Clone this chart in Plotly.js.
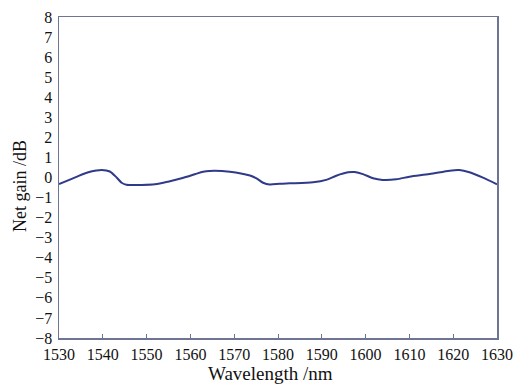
<!DOCTYPE html>
<html>
<head>
<meta charset="utf-8">
<script src="https://cdn.plot.ly/plotly-3.0.1.min.js"></script>
<style>html,body{margin:0;padding:0;background:#fff;}#chart{width:526px;height:384px;}</style>
</head>
<body>
<div id="chart"></div>
<script>
const wavelength = [1530, 1532.9, 1534.5, 1536.7, 1538.5, 1539.7, 1541.6, 1543.2, 1544.3, 1545.4, 1548.9, 1551.9, 1554.9, 1558.0, 1561.0, 1562.9, 1564.4, 1569.0, 1573.6, 1575.1, 1576.6, 1578.1, 1580.4, 1582.7, 1588.0, 1591.0, 1593.3, 1596.0, 1597.5, 1599.4, 1601.7, 1603.9, 1607.0, 1610.0, 1614.6, 1619.2, 1621.4, 1623.7, 1626.8, 1630];
const netGain = [-0.33, -0.07, 0.08, 0.26, 0.35, 0.38, 0.30, -0.01, -0.26, -0.36, -0.37, -0.34, -0.21, -0.04, 0.16, 0.29, 0.33, 0.29, 0.10, -0.04, -0.26, -0.35, -0.31, -0.29, -0.24, -0.12, 0.09, 0.26, 0.27, 0.17, -0.04, -0.12, -0.09, 0.04, 0.17, 0.34, 0.37, 0.26, -0.01, -0.34];
const xTicks = [1530, 1540, 1550, 1560, 1570, 1580, 1590, 1600, 1610, 1620, 1630];
const yTicks = [-8, -7, -6, -5, -4, -3, -2, -1, 0, 1, 2, 3, 4, 5, 6, 7, 8];
const xTitle = 'Wavelength /nm';
const yTitle = 'Net gain /dB';

const axisColor = '#6d7494';
const fontFam = '"Liberation Serif", "Times New Roman", serif';

Plotly.newPlot('chart', [{
  x: wavelength, y: netGain, type: 'scatter', mode: 'lines',
  line: {color: '#2f3a88', width: 2, shape: 'spline', smoothing: 0.8},
  hoverinfo: 'skip'
}], {
  width: 526, height: 384,
  margin: {l: 59, r: 29, t: 17, b: 46},
  paper_bgcolor: '#fff', plot_bgcolor: '#fff',
  showlegend: false,
  font: {family: fontFam, color: '#111', size: 16},
  xaxis: {
    range: [1530, 1630], tickvals: xTicks, ticktext: xTicks.map(String),
    showgrid: false, zeroline: false,
    showline: true, mirror: true, linecolor: axisColor, linewidth: 1.5,
    ticks: 'inside', ticklen: 4, tickcolor: axisColor, tickwidth: 1,
    ticklabelstandoff: 1,
    tickfont: {family: fontFam, size: 16, color: '#111'}
  },
  yaxis: {
    range: [-8, 8], tickvals: yTicks, ticktext: yTicks.map(v => v < 0 ? '\u2212' + Math.abs(v) : String(v)),
    showgrid: false, zeroline: false,
    showline: true, mirror: true, linecolor: axisColor, linewidth: 1.5,
    ticks: '', ticklabelstandoff: 2,
    tickfont: {family: fontFam, size: 16, color: '#111'}
  },
  annotations: [
    {text: xTitle, xref: 'paper', yref: 'paper', x: 0.4835, y: -0.112, xanchor: 'center', yanchor: 'middle',
     showarrow: false, font: {family: fontFam, size: 19, color: '#111'}},
    {text: yTitle, xref: 'paper', yref: 'paper', x: -0.089, y: 0.4735, xanchor: 'center', yanchor: 'middle',
     textangle: -90, showarrow: false, font: {family: fontFam, size: 18, color: '#111'}}
  ]
}, {displayModeBar: false, staticPlot: true});
</script>
</body>
</html>
